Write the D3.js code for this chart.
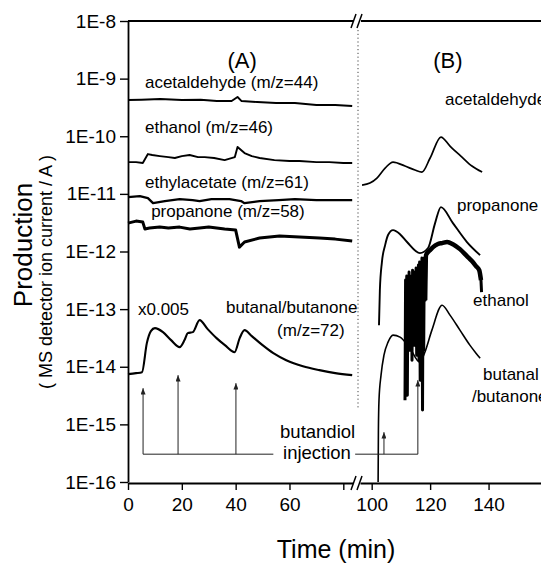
<!DOCTYPE html>
<html lang="en">
<head>
<meta charset="utf-8">
<title>Production during butandiol injection</title>
<script src="https://cdn.jsdelivr.net/npm/d3@7"></script>
<style>
  body { margin: 0; background: #fff; }
  svg { display: block; font-family: "Liberation Sans", Arial, sans-serif; }
  .tick text { font-size: 19px; fill: #000; }
  .lbl { font-size: 17px; fill: #000; }
</style>
</head>
<body>
<script>
// ---- axis ticks ----
var yTicks = [1e-16, 1e-15, 1e-14, 1e-13, 1e-12, 1e-11, 1e-10, 1e-9, 1e-8];
var xTicksA = [0, 20, 40, 60, 80];
var xTicksB = [100, 120, 140];

// ---- panel (A): time in min, MS ion current in A ----
var acetA_t = [0, 5, 12, 20, 27, 33, 38.5, 40.7, 42.2, 48, 55, 62, 70, 77, 83.3];
var acetA_v = [4.25e-10, 4.3e-10, 4.43e-10, 4.25e-10, 4.3e-10, 4.08e-10, 4.08e-10, 4.8e-10, 4.08e-10, 3.92e-10, 3.77e-10, 3.77e-10, 3.48e-10, 3.48e-10, 3.34e-10];

var ethA_t = [0, 3, 5.5, 7.4, 9, 11.8, 15, 17.4, 20, 22.9, 26, 28.5, 32, 35.9, 39.7, 40.7, 43.3, 46, 48.9, 54.4, 60, 63.7, 70, 74.8, 80, 83.3];
var ethA_v = [3.56e-11, 3.56e-11, 3.43e-11, 4.91e-11, 4.72e-11, 4.53e-11, 4.35e-11, 4.19e-11, 4.53e-11, 4.72e-11, 4.35e-11, 4.35e-11, 4.19e-11, 3.86e-11, 4.35e-11, 6.5e-11, 5.11e-11, 4.53e-11, 4.19e-11, 3.86e-11, 3.71e-11, 3.71e-11, 3.56e-11, 3.56e-11, 3.43e-11, 3.43e-11];

var eacA_t = [0, 4.4, 7.4, 9.3, 13.7, 19.2, 24, 26.6, 31, 37.7, 42, 43.3, 48.9, 56, 62, 70, 76, 83.3];
var eacA_v = [8.8e-12, 9.16e-12, 8.45e-12, 6.9e-12, 7.5e-12, 8.1e-12, 7.8e-12, 7.5e-12, 8.1e-12, 8.1e-12, 7.5e-12, 6.9e-12, 7.5e-12, 7.8e-12, 8.1e-12, 7.8e-12, 7.8e-12, 7.8e-12];

var propA_t = [0, 3, 5.5, 6.3, 8, 11.8, 15, 19.2, 23, 26.6, 30, 35.9, 40, 41.4, 43.3, 48.9, 56.3, 63.7, 71.1, 77, 83.3];
var propA_v = [3.11e-12, 3.37e-12, 3.24e-12, 2.45e-12, 2.55e-12, 2.65e-12, 2.55e-12, 2.65e-12, 2.45e-12, 2.55e-12, 2.65e-12, 2.45e-12, 2.35e-12, 1.19e-12, 1.46e-12, 1.71e-12, 1.85e-12, 1.78e-12, 1.71e-12, 1.64e-12, 1.52e-12];

var butA_t = [0, 3, 5.2, 7.0, 8.5, 10.0, 13, 16, 19.2, 21, 22.2, 24.1, 26.6, 29.6, 32.9, 36, 39.6, 41.5, 43.3, 46, 50, 54, 58.8, 65, 71.1, 77, 83.3];
var butA_v = [7.44e-15, 7.74e-15, 8.05e-15, 2.57e-14, 4.15e-14, 4.68e-14, 3.99e-14, 2.9e-14, 2.19e-14, 2.9e-14, 3.83e-14, 3.99e-14, 6.44e-14, 4.5e-14, 3.14e-14, 2.37e-14, 1.79e-14, 3.14e-14, 4.32e-14, 3.4e-14, 2.37e-14, 1.72e-14, 1.3e-14, 1.02e-14, 8.73e-15, 7.74e-15, 7.15e-15];

// ---- panel (B) ----
var acetB_t = [96.7, 99.4, 101.8, 104.6, 107.3, 111.4, 114.8, 117.2, 120.0, 123.7, 126.8, 130.9, 134.3, 137.8];
var acetB_v = [1.42e-11, 1.54e-11, 1.88e-11, 2.8e-11, 3.56e-11, 3.04e-11, 2.59e-11, 2.39e-11, 4.19e-11, 9.68e-11, 6.76e-11, 4.35e-11, 3.04e-11, 2.39e-11];

var propB_t = [102.5, 102.8, 103.5, 104.6, 105.6, 107.3, 109.7, 112.1, 116.5, 119.3, 121.7, 123.7, 127.8, 132.6, 137.1];
var propB_v = [5.27e-14, 2.14e-13, 6.55e-13, 1.29e-12, 1.93e-12, 2.35e-12, 2.0e-12, 1.46e-12, 9.38e-13, 1.15e-12, 3.11e-12, 5.9e-12, 3.11e-12, 1.46e-12, 8.66e-13];

var ethB_t = [111.4, 111.6, 111.8, 112.0, 112.2, 112.4, 112.6, 112.8, 113.0, 113.2, 113.4, 113.6, 113.8, 114.0, 114.2, 114.4, 114.6, 114.8, 115.0, 115.2, 115.4, 115.6, 115.8, 116.0, 116.2, 116.4, 116.6, 116.8, 117.0, 117.2, 117.4, 117.6, 117.8, 118.0, 118.3, 118.6,
              119.3, 120.0, 121.0, 122.5, 124.1, 125.8, 127.8, 130.2, 132.6, 134.3, 135.7, 136.8, 137.4, 137.6];
var ethB_v = [2.63e-15, 3.19e-13, 2.9e-14, 3.74e-13, 3.21e-15, 3.45e-13, 4.32e-14, 4.39e-13, 1.94e-14, 2.94e-13, 6.44e-14, 3.74e-13, 1.3e-14, 4.75e-13, 3.54e-14, 3.19e-13, 2.37e-14, 4.39e-13, 4.32e-14, 5.15e-13, 1.59e-14, 4.75e-13, 2.9e-14, 5.81e-13, 1.3e-14, 6.55e-13, 5.85e-15, 6.55e-13, 2.37e-14, 7.68e-13, 1.77e-15, 6.55e-13, 1.94e-14, 7.68e-13, 1.43e-13, 8.66e-13,
              9.77e-13, 1.06e-12, 1.19e-12, 1.34e-12, 1.4e-12, 1.46e-12, 1.34e-12, 1.1e-12, 8.32e-13, 6.81e-13, 5.58e-13, 4.75e-13, 3.19e-13, 1.97e-13];

var butB_t = [102.2, 102.3, 102.5, 103.2, 104.2, 105.6, 107.3, 109.7, 113.1, 116.5, 118.2, 120.6, 124.1, 126.8, 130.2, 133.6, 135.7, 137.1];
var butB_v = [1e-16, 7.93e-16, 2.63e-15, 7.15e-15, 1.59e-14, 2.67e-14, 3.54e-14, 3.27e-14, 2.1e-14, 1.2e-14, 1.79e-14, 4.32e-14, 1.17e-13, 7.87e-14, 4.32e-14, 2.37e-14, 1.72e-14, 1.41e-14];

// ---- butandiol injections (time, arrow tip level) ----
var injA_t = [5.6, 18.6, 40.1];
var injA_tip = [4.25e-15, 7.15e-15, 5.19e-15];
var injB_t = [104.2, 115.8];
var injB_tip = [7.32e-16, 5.85e-15];
var injBase = 3.04e-16;

// ---- scales ----
var w = 541, h = 566;
var y = d3.scaleLog().domain([1e-16, 1e-8]).range([482, 21]);
var xA = d3.scaleLinear().domain([0, 83.6]).range([128, 353]);
var xB = d3.scaleLinear().domain([96, 160]).range([360, 547]);

var svg = d3.select("body").append("svg")
    .attr("width", w)
    .attr("height", h);

// arrow head
svg.append("defs").append("marker")
    .attr("id", "head")
    .attr("viewBox", "0 0 8 10")
    .attr("refX", 4).attr("refY", 0)
    .attr("markerWidth", 5).attr("markerHeight", 7)
    .attr("markerUnits", "userSpaceOnUse")
    .attr("orient", "0")
  .append("path")
    .attr("d", "M0,10 L4,0 L8,10 Z")
    .attr("fill", "#222");

// ---- axes ----
var fmtE = function(d){ return "1E" + Math.round(Math.log10(d)); };

svg.append("g")
    .attr("transform", "translate(128,0)")
    .call(d3.axisLeft(y).tickValues(yTicks).tickFormat(fmtE).tickSize(8).tickSizeOuter(0).tickPadding(4));

svg.append("g")
    .attr("transform", "translate(0,483)")
    .call(d3.axisBottom(xA).tickValues(xTicksA).tickFormat(function(d){ return d === 80 ? "" : d; }).tickSize(7).tickSizeOuter(0).tickPadding(8));

svg.append("g")
    .attr("transform", "translate(0,483)")
    .call(d3.axisBottom(xB).tickValues(xTicksB).tickSize(7).tickSizeOuter(0).tickPadding(8));

svg.selectAll(".domain").attr("stroke-width", 1.8);
svg.selectAll(".tick line").attr("stroke-width", 1.4);

// top frame line with break
svg.append("line").attr("x1", 128).attr("x2", 353).attr("y1", 21).attr("y2", 21)
    .attr("stroke", "#000").attr("stroke-width", 1.8);
svg.append("line").attr("x1", 361).attr("x2", w).attr("y1", 21).attr("y2", 21)
    .attr("stroke", "#000").attr("stroke-width", 1.8);

// break marks
[21, 483].forEach(function(yy){
    [351, 357].forEach(function(xx){
        svg.append("line")
            .attr("x1", xx).attr("y1", yy + 7)
            .attr("x2", xx + 5).attr("y2", yy - 7)
            .attr("stroke", "#000").attr("stroke-width", 1.5);
    });
});

// dotted separator between (A) and (B)
svg.append("line")
    .attr("x1", 358).attr("x2", 358).attr("y1", 30).attr("y2", 410)
    .attr("stroke", "#444").attr("stroke-width", 1)
    .attr("stroke-dasharray", "1.2,2.6");

// ---- curves ----
function zip(t, v){ return t.map(function(d, i){ return [d, v[i]]; }); }

function draw(pts, xs, sw, curve){
    var line = d3.line()
        .x(function(d){ return xs(d[0]); })
        .y(function(d){ return y(d[1]); })
        .curve(curve || d3.curveLinear);
    svg.append("path")
        .datum(pts)
        .attr("d", line)
        .attr("fill", "none")
        .attr("stroke", "#000")
        .attr("stroke-width", sw)
        .attr("stroke-linejoin", "round");
}

draw(zip(acetA_t, acetA_v), xA, 1.9);
draw(zip(ethA_t, ethA_v), xA, 1.9);
draw(zip(eacA_t, eacA_v), xA, 2.3);
draw(zip(propA_t, propA_v), xA, 3.0);
draw(zip(butA_t, butA_v), xA, 2.1, d3.curveMonotoneX);

draw(zip(acetB_t, acetB_v), xB, 1.7, d3.curveMonotoneX);
draw(zip(propB_t, propB_v), xB, 1.9, d3.curveMonotoneX);
// ethanol: dense noisy burst, then a thick noisy band
var ethB = zip(ethB_t, ethB_v);
draw(ethB, xB, 3.0);
draw(ethB.filter(function(d){ return d[0] >= 118.3 && d[0] <= 137.4; }), xB, 4.5, d3.curveMonotoneX);
draw(zip(butB_t, butB_v), xB, 1.6, d3.curveMonotoneX);

// ---- injection arrows ----
function arrows(ts, tips, xs){
    ts.forEach(function(t, i){
        svg.append("line")
            .attr("x1", xs(t)).attr("x2", xs(t))
            .attr("y1", y(injBase)).attr("y2", y(tips[i]))
            .attr("stroke", "#222").attr("stroke-width", 1)
            .attr("marker-end", "url(#head)");
    });
}
arrows(injA_t, injA_tip, xA);
arrows(injB_t, injB_tip, xB);

svg.append("line")
    .attr("x1", xA(injA_t[0])).attr("x2", xA(54))
    .attr("y1", y(injBase)).attr("y2", y(injBase))
    .attr("stroke", "#222").attr("stroke-width", 1);
svg.append("line")
    .attr("x1", xA(84.4)).attr("x2", xB(injB_t[1]))
    .attr("y1", y(injBase)).attr("y2", y(injBase))
    .attr("stroke", "#222").attr("stroke-width", 1);

// ---- labels ----
function label(txt, t, v, xs, size, anchor){
    svg.append("text")
        .attr("class", "lbl")
        .attr("x", xs(t)).attr("y", y(v))
        .attr("text-anchor", anchor || "start")
        .style("font-size", size ? size + "px" : null)
        .text(txt);
}
label("(A)", 42.4, 1.53e-9, xA, 22, "middle");
label("(B)", 126.1, 1.53e-9, xB, 22, "middle");
label("acetaldehyde (m/z=44)", 6.3, 6.87e-10, xA);
label("ethanol (m/z=46)", 6.3, 1.14e-10, xA);
label("ethylacetate (m/z=61)", 6.3, 1.26e-11, xA);
label("propanone (m/z=58)", 8.6, 3.96e-12, xA);
label("x0.005", 3.7, 7.87e-14, xA);
label("butanal/butanone", 36.4, 8.53e-14, xA);
label("(m/z=72)", 55.4, 3.4e-14, xA);
label("acetaldehyde", 125.1, 3.48e-10, xB);
label("propanone", 129.2, 5.03e-12, xB);
label("ethanol", 134.7, 1.13e-13, xB);
label("butanal", 138.1, 5.85e-15, xB);
label("/butanone", 134.3, 2.43e-15, xB);
label("butandiol", 56.5, 5.75e-16, xA, 18.5);
label("injection", 57.6, 2.49e-16, xA, 18.5);

// ---- axis titles ----
svg.append("text")
    .attr("transform", "translate(32,245) rotate(-90)")
    .attr("text-anchor", "middle")
    .style("font-size", "26px")
    .text("Production");
svg.append("text")
    .attr("transform", "translate(52,272) rotate(-90)")
    .attr("text-anchor", "middle")
    .style("font-size", "18px")
    .text("( MS detector ion current / A )");
svg.append("text")
    .attr("x", 336).attr("y", 558)
    .attr("text-anchor", "middle")
    .style("font-size", "25px")
    .text("Time (min)");
</script>
</body>
</html>
